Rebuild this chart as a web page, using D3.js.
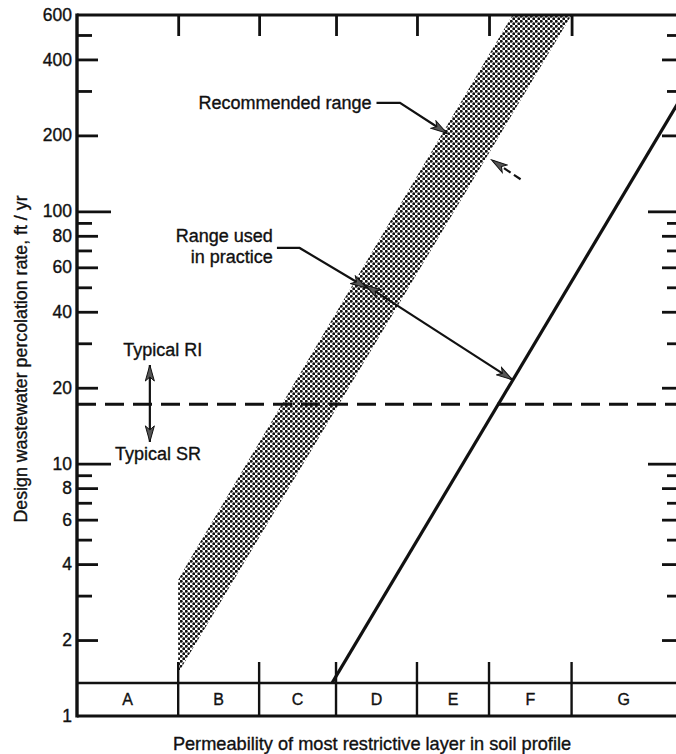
<!DOCTYPE html>
<html>
<head>
<meta charset="utf-8">
<script src="https://cdn.jsdelivr.net/npm/d3@7"></script>
<style>
  body { margin: 0; background: #fff; }
  svg { font-family: "Liberation Sans", Arial, Helvetica, sans-serif; }
  svg text { fill: #111; stroke: #111; stroke-width: 0.35px; }
  .axis text { font-size: 17.5px; }
  .axis line { stroke: #111; stroke-width: 2.8; }
</style>
</head>
<body>
<div class="chart"></div>
<script>
const categories = ["A", "B", "C", "D", "E", "F", "G"];
const classBounds = [0, 1.25, 2.25, 3.2, 4.2, 5.09, 6.11, 7.4];

// y axis ticks (ft/yr, log)
const decadeTicks = [10, 100];
const labelTicks = [2, 4, 6, 8, 20, 40, 60, 80, 200, 400];
const minorTicks = [3, 5, 7, 9, 30, 50, 70, 90, 300, 500];
const endTicks = [1, 600];

// recommended range band: [class index, rate]
const bandEdge = [[1.25, 1.48], [1.25, 3.46], [1.39, 4.15], [5.38, 600], [6.11, 600]];
// range used in practice (upper limit line)
const practiceLine = [[3.15, 1.35], [7.45, 277]];
// boundary between typical RI and SR
const typicalRate = 17.2;

// annotation anchors [class index, rate]
const recLeader = [[3.70, 269], [3.99, 269], [4.57, 204]];
const recArrow2 = [[5.48, 134], [5.12, 160]];
const usedLeader = [[2.47, 71.6], [2.75, 71.6], [3.58, 49.7]];
const usedSpan = [[3.56, 51.1], [5.38, 21.5]];
const riSrArrow = [[0.9, 24.6], [0.9, 12.2]];

const svgW = 676, svgH = 754;
const m = { left: 77, right: 676, top: 15, bottom: 716 };
const stripH = 33;

const svg = d3.select(".chart").append("svg")
  .attr("width", svgW).attr("height", svgH);

const x = d3.scaleLinear().domain([0, 7.4]).range([m.left, m.right]);
const y = d3.scaleLog().domain([1, 600]).range([m.bottom, m.top]);
const stripTop = m.bottom - stripH;

const defs = svg.append("defs");
// halftone dot pattern for the band
const pat = defs.append("pattern").attr("id", "dots")
  .attr("width", 5).attr("height", 5).attr("patternUnits", "userSpaceOnUse");
pat.append("rect").attr("width", 5).attr("height", 5).attr("fill", "#fff");
pat.append("circle").attr("cx", 1.25).attr("cy", 1.25).attr("r", 1.45).attr("fill", "#111");
pat.append("circle").attr("cx", 3.75).attr("cy", 3.75).attr("r", 1.45).attr("fill", "#111");

defs.append("marker").attr("id", "arrow")
  .attr("markerUnits", "userSpaceOnUse")
  .attr("markerWidth", 18).attr("markerHeight", 11)
  .attr("refX", 17).attr("refY", 5.5).attr("orient", "auto-start-reverse")
  .append("path").attr("d", "M1,1 L17,5.5 L1,10 L5,5.5 Z")
  .attr("fill", "#555").attr("stroke", "#111").attr("stroke-width", 1);

defs.append("clipPath").attr("id", "plot").append("rect")
  .attr("x", m.left).attr("y", m.top).attr("width", m.right - m.left).attr("height", stripTop - m.top);

const line = d3.line().x(d => x(d[0])).y(d => y(d[1]));

// band
svg.append("path").datum(bandEdge)
  .attr("d", d => line(d) + "Z")
  .attr("fill", "url(#dots)");

// practice line
svg.append("path").datum(practiceLine)
  .attr("clip-path", "url(#plot)")
  .attr("d", line).attr("fill", "none")
  .attr("stroke", "#111").attr("stroke-width", 3.2);

// RI / SR dashed boundary
svg.append("line")
  .attr("x1", m.left).attr("x2", m.right)
  .attr("y1", y(typicalRate)).attr("y2", y(typicalRate))
  .attr("stroke", "#111").attr("stroke-width", 2.8).attr("stroke-dasharray", "19,9");

// y axes, inward ticks of three lengths
function yAxis(gen, values, size, labels) {
  const g = svg.append("g").attr("class", "axis")
    .call(gen(y).tickValues(values).tickSizeInner(size).tickSizeOuter(0)
      .tickPadding(5).tickFormat(labels ? d3.format("d") : ""));
  g.select(".domain").remove();
  return g;
}
const leftG = [
  [decadeTicks, -34, true], [labelTicks, -21, true], [minorTicks, -15, false], [endTicks, 0, true]
];
leftG.forEach(t => yAxis(d3.axisLeft, t[0], t[1], t[2]).attr("transform", `translate(${m.left},0)`));
const rightG = [[decadeTicks, -28], [labelTicks, -14], [minorTicks, -9]];
rightG.forEach(t => yAxis(d3.axisRight, t[0], t[1], false).attr("transform", `translate(${m.right},0)`));

// top ticks at class boundaries
const topAx = svg.append("g").attr("class", "axis")
  .attr("transform", `translate(0,${m.top})`)
  .call(d3.axisTop(x).tickValues(classBounds.slice(1, -1)).tickSizeInner(-21).tickSizeOuter(0).tickFormat(""));
topAx.select(".domain").remove();

// frame lines
const frame = svg.append("g").attr("stroke", "#111").attr("fill", "none");
frame.append("line").attr("x1", m.left).attr("x2", m.right).attr("y1", m.top).attr("y2", m.top).attr("stroke-width", 3.2);
frame.append("line").attr("x1", m.left).attr("x2", m.left).attr("y1", m.top - 1.5).attr("y2", m.bottom + 1.5).attr("stroke-width", 3.4);
frame.append("line").attr("x1", m.left).attr("x2", m.right).attr("y1", m.bottom).attr("y2", m.bottom).attr("stroke-width", 3);
frame.append("line").attr("x1", m.left).attr("x2", m.right).attr("y1", stripTop).attr("y2", stripTop).attr("stroke-width", 2.6);

// class strip dividers + small ticks above
frame.selectAll(".div").data(classBounds.slice(1, -1)).enter().append("line")
  .attr("x1", d => x(d)).attr("x2", d => x(d))
  .attr("y1", stripTop - 21).attr("y2", m.bottom)
  .attr("stroke-width", 2.4);

svg.append("g").selectAll("text").data(categories).enter().append("text")
  .attr("x", (d, i) => x((classBounds[i] + classBounds[i + 1]) / 2))
  .attr("y", (stripTop + m.bottom) / 2)
  .attr("dy", "0.36em").attr("text-anchor", "middle")
  .style("font-size", "16px")
  .text(d => d);

// axis titles
svg.append("text")
  .attr("x", 372).attr("y", 744).attr("dy", "0.35em")
  .attr("text-anchor", "middle").style("font-size", "18.2px")
  .text("Permeability of most restrictive layer in soil profile");
svg.append("text")
  .attr("transform", "translate(21,359) rotate(-90)")
  .attr("dy", "0.35em")
  .attr("text-anchor", "middle").style("font-size", "17.8px")
  .text("Design wastewater percolation rate, ft / yr");

// annotations
const ann = svg.append("g").style("font-size", "18px");
function note(ux, rate, txt, anchor) {
  ann.append("text").attr("x", x(ux)).attr("y", y(rate)).attr("dy", "0.35em")
    .attr("text-anchor", anchor).text(txt);
}
note(3.64, 269, "Recommended range", "end");
note(2.42, 79.9, "Range used", "end");
note(2.42, 65.9, "in practice", "end");
note(1.06, 28.2, "Typical RI", "middle");
note(1.0, 11.0, "Typical SR", "middle");

function arrow(pts, dashed, both) {
  const p = svg.append("path").datum(pts).attr("d", line)
    .attr("fill", "none").attr("stroke", "#111").attr("stroke-width", 2.2)
    .attr("marker-end", "url(#arrow)");
  if (both) p.attr("marker-start", "url(#arrow)");
  if (dashed) p.attr("stroke-dasharray", "8,4");
}
arrow(recLeader, false, false);
arrow(recArrow2, true, false);
arrow(usedLeader, false, false);
arrow(usedSpan, false, true);
arrow(riSrArrow, false, true);
</script>
</body>
</html>
